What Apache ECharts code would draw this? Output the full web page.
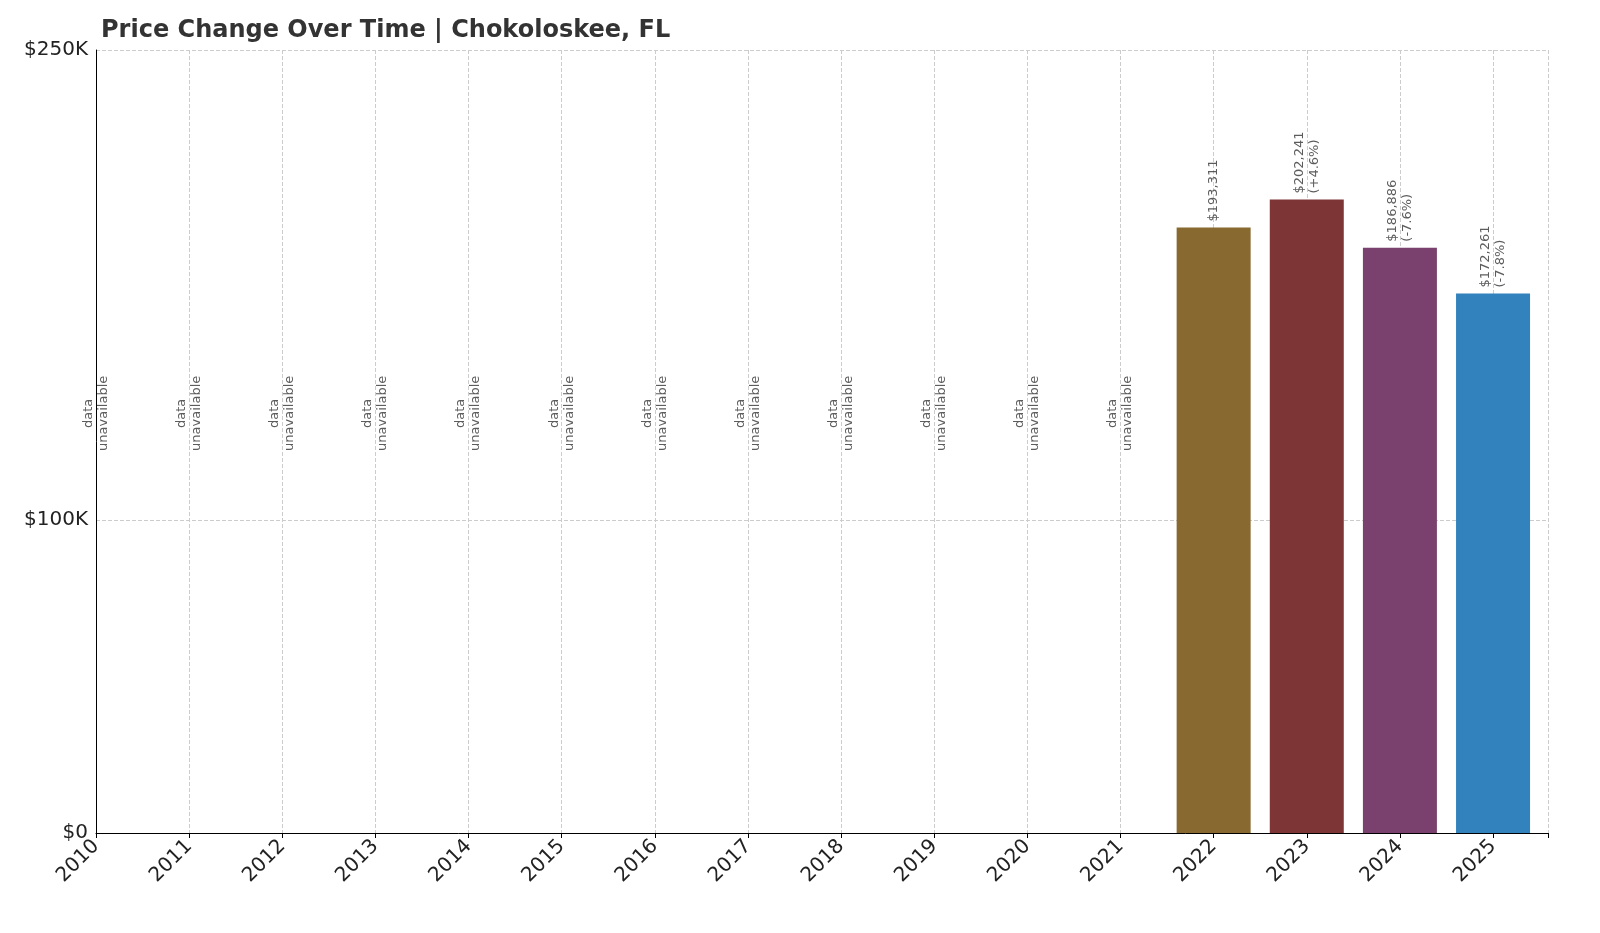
<!DOCTYPE html>
<html><head><meta charset="utf-8">
<script src="https://cdn.jsdelivr.net/npm/echarts@6/dist/echarts.min.js"></script>
<style>html,body{margin:0;padding:0;background:#fff}#c{width:1600px;height:933px}</style>
</head><body><div id="c"></div>
<script>
const years = [2010,2011,2012,2013,2014,2015,2016,2017,2018,2019,2020,2021,2022,2023,2024,2025];
const missingYears = [2010,2011,2012,2013,2014,2015,2016,2017,2018,2019,2020,2021];
const barYears = [2022,2023,2024,2025];
const barValues = [193311,202241,186886,172261];
const barLabels = ['$193,311','$202,241\n(+4.6%)','$186,886\n(-7.6%)','$172,261\n(-7.8%)'];
const barColors = ['#886A30','#7E3535','#7A416E','#3182BD'];
const yTicks = [0,100000,250000];
const yTickLabels = ['$0','$100K','$250K'];

const chart = echarts.init(document.getElementById('c'));
chart.setOption({
  animation:false,
  title:{text:'Price Change Over Time | Chokoloskee, FL',left:96,top:14,textStyle:{fontFamily:'DejaVu Sans',fontSize:24,fontWeight:'bold',color:'#333'}},
  grid:{left:96,right:52,top:50,bottom:100},
  xAxis:{type:'value',min:2010,max:2025.59,interval:1,
    axisLine:{show:true,lineStyle:{color:'#000'}},axisTick:{show:true,lineStyle:{color:'#000'}},
    axisLabel:{rotate:45,fontSize:20,color:'#222',fontFamily:'DejaVu Sans',formatter:v=>years.includes(v)?String(v):'',margin:10},
    splitLine:{show:true,lineStyle:{type:'dashed',color:'#ccc'}}},
  yAxis:{type:'value',min:0,max:250000,interval:50000,
    axisLine:{show:true,lineStyle:{color:'#000'}},axisTick:{show:false},
    axisLabel:{fontSize:20,color:'#222',fontFamily:'DejaVu Sans',formatter:v=>{const i=yTicks.indexOf(v);return i>=0?yTickLabels[i]:'';}},
    splitLine:{show:false}},
  series:[
    {type:'scatter',symbolSize:0,data:[],z:0,
     markLine:{silent:true,symbol:'none',z:0,label:{show:false},lineStyle:{type:'dashed',color:'#ccc',width:1},data:yTicks.slice(1).map(v=>({yAxis:v}))}},
    {type:'bar',barWidth:74,data:barYears.map((y,i)=>({value:[y,barValues[i]],itemStyle:{color:barColors[i]}})),z:2},
    {type:'scatter',symbolSize:0,data:barYears.map((y,i)=>({value:[y,barValues[i]],label:{formatter:barLabels[i]}})),
     label:{show:true,position:'top',rotate:90,align:'left',verticalAlign:'middle',distance:6,fontSize:13,color:'#333',fontFamily:'DejaVu Sans',lineHeight:15},z:3},
    {type:'scatter',symbolSize:0,data:missingYears.map(y=>[y,134000]),
     label:{show:true,position:'inside',rotate:90,align:'center',verticalAlign:'middle',formatter:'data\nunavailable',fontSize:13,color:'#333',fontFamily:'DejaVu Sans',lineHeight:15},z:3}
  ]
});
</script></body></html>
